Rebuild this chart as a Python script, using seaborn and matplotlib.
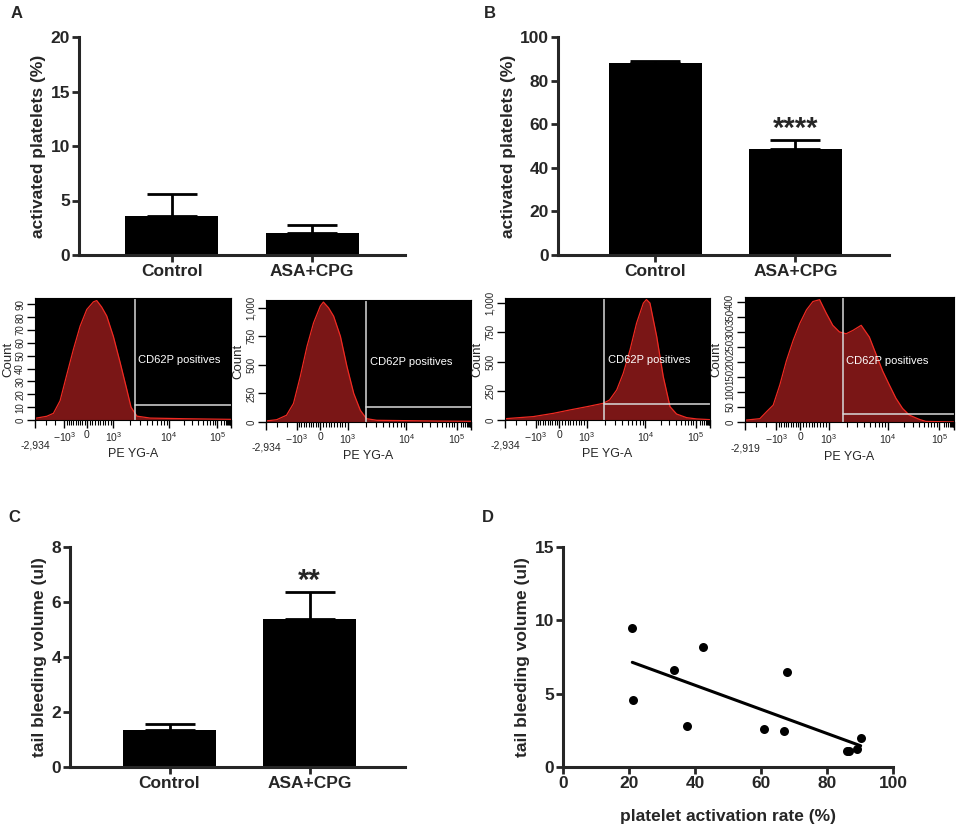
import numpy as np
import pandas as pd
import matplotlib
matplotlib.use('Agg')
import matplotlib.pyplot as plt
import seaborn as sns

sns.set_theme(style='ticks')
plt.rcParams['font.family'] = ['Liberation Sans', 'DejaVu Sans']
plt.rcParams['mathtext.fontset'] = 'custom'
plt.rcParams['mathtext.rm'] = 'Liberation Sans'
plt.rcParams['mathtext.it'] = 'Liberation Sans:italic'
plt.rcParams['mathtext.bf'] = 'Liberation Sans:bold'

groups = ['Control', 'ASA+CPG']

# A: activated platelets (%), resting
rest_mean = [3.6, 2.0]
rest_sem = [2.0, 0.75]
# B: activated platelets (%), stimulated
stim_mean = [88.0, 48.5]
stim_sem = [0.8, 4.1]
# C: tail bleeding volume (ul)
bleed_mean = [1.35, 5.4]
bleed_sem = [0.23, 0.95]
# D: correlation
act_rate = [21.0, 21.2, 33.5, 42.5, 37.5, 60.8, 67.0, 67.8, 86.0, 86.6, 89.0, 90.2]
bleed_vol = [9.5, 4.6, 6.6, 8.15, 2.8, 2.6, 2.45, 6.45, 1.1, 1.1, 1.2, 2.0]

# flow histograms: x = position on PE YG-A axis (% of width), y = count
h1_x = [0, 6, 9.4, 12.8, 16, 19.6, 23, 26.4, 29.8, 31.5, 34, 36.6, 40, 43.4,
        46.8, 49, 52, 58.7, 76, 100]
h1_y = [1.3, 2.9, 5.2, 15, 34, 55, 73, 86, 92, 93, 88, 81, 65, 45, 24, 10, 3,
        1.5, 1, 0.5]
h2_x = [0, 5.2, 10, 13.4, 16.7, 20, 23.2, 26.5, 28, 30.5, 33, 36.3, 39.5, 42.8,
        46, 49, 54, 67, 80, 100]
h2_y = [9, 20, 59, 162, 397, 662, 868, 1015, 1050, 1000, 926, 750, 485, 250,
        103, 29, 15, 12, 9, 6]
h3_x = [0, 13.8, 23.6, 31.7, 40, 48, 51, 54.5, 57.7, 61, 64.2, 67.5, 69, 70.7,
        74, 77.2, 80.5, 83.7, 88.6, 93.5, 100]
h3_y = [11, 29, 57, 86, 114, 143, 171, 257, 400, 600, 829, 1000, 1030, 1000,
        714, 371, 114, 51, 20, 9, 3]
h4_x = [0, 7.1, 10.3, 13.5, 16.7, 19.8, 23, 26.2, 29.4, 32.5, 35.7, 38.9, 42,
        45.2, 48.4, 51.6, 55.6, 59.5, 62.7, 65.9, 69, 72.2, 75.4, 78.6, 83.3,
        86.5, 100]
h4_y = [6, 11, 34, 56, 124, 203, 270, 327, 372, 400, 406, 361, 321, 299, 293,
        304, 321, 282, 225, 169, 124, 79, 45, 23, 9, 2, 0]

W, H = 957, 827
fig = plt.figure(figsize=(W / 100, H / 100), dpi=100)


def box(x0, y0, x1, y1):
    return fig.add_axes([x0 / W, 1 - y1 / H, (x1 - x0) / W, (y1 - y0) / H])


def bar_panel(ax, means, sems, ymax, yticks, ylabel, xlim, stars=None):
    df = pd.DataFrame({'group': groups, 'value': means})
    sns.barplot(data=df, x='group', y='value', color='black', width=0.664,
                errorbar=None, saturation=1, linewidth=0, ax=ax)
    ax.errorbar([0, 1], means, yerr=[np.zeros(2), sems], fmt='none',
                ecolor='black', elinewidth=2, capsize=18, capthick=2)
    ax.set_xlim(*xlim)
    ax.set_ylim(0, ymax)
    ax.set_yticks(yticks)
    ax.set_xlabel('')
    ax.set_ylabel(ylabel, fontsize=12.5, fontweight='bold', labelpad=3)
    sns.despine(ax=ax)
    for s in ['left', 'bottom']:
        ax.spines[s].set_linewidth(2.2)
    ax.tick_params(width=2, length=5, labelsize=12.5, pad=1.5)
    for lab in ax.get_xticklabels() + ax.get_yticklabels():
        lab.set_fontweight('bold')
    if stars:
        top = means[1] + sems[1]
        ax.text(1, top - ymax * 0.01, stars, ha='center', va='bottom',
                fontsize=21, fontweight='bold')


def flow_panel(ax, xs, ys, ymax, yticks, ylabels, gate_x, gate_y, low):
    ax.set_facecolor('black')
    ax.fill_between(xs, ys, color='#7a1616', lw=0)
    sns.lineplot(x=xs, y=ys, color='#f02a22', lw=0.9, sort=False, ax=ax)
    ax.axvline(gate_x, color='#d9d9d9', lw=1.1)
    ax.plot([gate_x, 100], [gate_y, gate_y], color='#d9d9d9', lw=1.1)
    ax.text(gate_x + 1.5, ymax * 0.49, 'CD62P positives', color='white',
            fontsize=8, va='center')
    ax.set_xlim(0, 100)
    ax.set_ylim(0, ymax)
    major = [0, 15, 26.5, 40, 68.5, 93, 100]
    labels = ['', r'$-10^3$', '0', r'$10^3$', r'$10^4$', r'$10^5$', '']
    ax.set_xticks(major, labels, fontsize=7.5)
    minor = [5.5, 10] + list(np.linspace(15, 26.5, 11)[1:-1]) + \
        list(np.linspace(26.5, 40, 11)[1:-1])
    for a, b in [(40, 68.5), (68.5, 93), (93, 100)]:
        minor += [a + (b - a) * np.log10(k) for k in range(2, 10)
                  if a + (b - a) * np.log10(k) < 100]
    ax.set_xticks(minor, minor=True)
    ax.set_yticks(yticks, ylabels, fontsize=7, rotation=90, va='center')
    ax.tick_params(axis='both', which='major', length=6, width=1, pad=1,
                   color='black')
    ax.tick_params(axis='x', which='minor', length=3.5, width=0.8,
                   color='black')
    for s in ax.spines.values():
        s.set_color('black')
        s.set_linewidth(0.8)
    ax.text(0, -0.21, low, transform=ax.transAxes, ha='center', va='center',
            fontsize=7.5)
    ax.text(0.5, -0.28, 'PE YG-A', transform=ax.transAxes, ha='center',
            va='center', fontsize=9)
    ax.text(-0.135, 0.5, 'Count', transform=ax.transAxes, ha='center',
            va='center', rotation=90, fontsize=9.5)


# A
axA = box(79, 37, 405, 255)
bar_panel(axA, rest_mean, rest_sem, 20, [0, 5, 10, 15, 20],
          'activated platelets (%)', (-0.664, 1.664))
# B
axB = box(558, 37, 889, 255)
bar_panel(axB, stim_mean, stim_sem, 100, [0, 20, 40, 60, 80, 100],
          'activated platelets (%)', (-0.696, 1.668), stars='****')
# C
axC = box(70, 547, 405, 767)
bar_panel(axC, bleed_mean, bleed_sem, 8, [0, 2, 4, 6, 8],
          'tail bleeding volume (ul)', (-0.71, 1.68), stars='**')

# flow cytometry histograms
flow_panel(box(35, 298, 231, 420), h1_x, h1_y, 95, list(range(0, 100, 10)),
           [str(v) for v in range(0, 100, 10)], 51, 12, '-2,934')
flow_panel(box(266, 300, 471, 422), h2_x, h2_y, 1068, [0, 250, 500, 750, 1000],
           ['0', '250', '500', '750', '1,000'], 49, 130, '-2,934')
flow_panel(box(505, 298, 710, 420), h3_x, h3_y, 1043, [0, 250, 500, 750, 1000],
           ['0', '250', '500', '750', '1,000'], 48.5, 135, '-2,934')
flow_panel(box(745, 297, 954, 422), h4_x, h4_y, 415, list(range(0, 450, 50)),
           [str(v) for v in range(0, 450, 50)], 47, 25, '-2,919')

# D
axD = box(563, 547, 893, 767)
sns.regplot(x=act_rate, y=bleed_vol, ci=None, color='black', ax=axD,
            scatter_kws={'s': 42, 'linewidths': 0, 'alpha': 1},
            line_kws={'linewidth': 2.2})
axD.set_xlim(0, 100)
axD.set_ylim(0, 15)
axD.set_xticks([0, 20, 40, 60, 80, 100])
axD.set_yticks([0, 5, 10, 15])
axD.set_xlabel('platelet activation rate (%)', fontsize=12.5,
               fontweight='bold', labelpad=13)
axD.set_ylabel('tail bleeding volume (ul)', fontsize=12.5, fontweight='bold',
               labelpad=3)
sns.despine(ax=axD)
for s in ['left', 'bottom']:
    axD.spines[s].set_linewidth(2.2)
axD.tick_params(width=2, length=5, labelsize=12.5, pad=1.5)
for lab in axD.get_xticklabels() + axD.get_yticklabels():
    lab.set_fontweight('bold')

# panel letters
for letter, (px, py) in zip('ABCD', [(17, 13), (490, 13), (14, 518),
                                     (488, 518)]):
    fig.text(px / W, 1 - py / H, letter, fontsize=12, fontweight='bold',
             ha='center', va='center')

fig.savefig('out.png', dpi=100)
